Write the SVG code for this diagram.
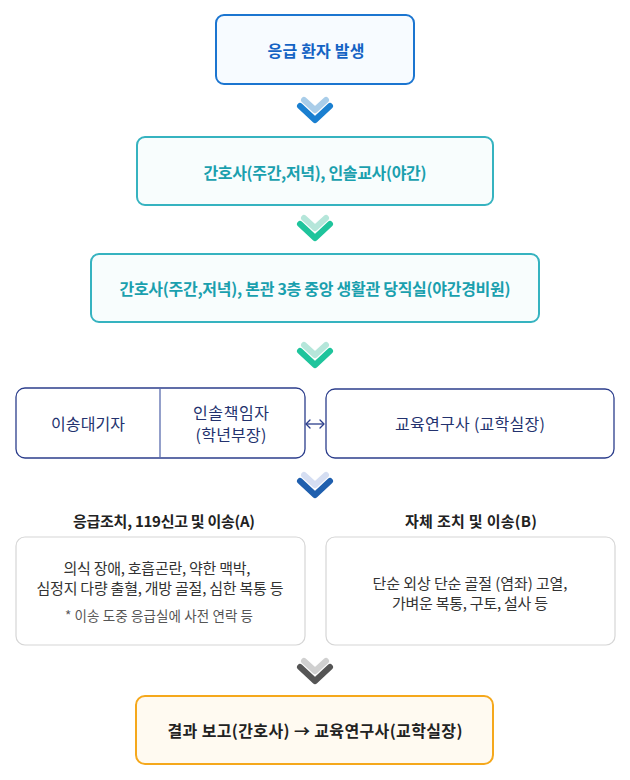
<svg xmlns="http://www.w3.org/2000/svg" width="630" height="780" viewBox="0 0 630 780">
<style>
text{font-family:"Noto Sans CJK KR","Noto Sans",sans-serif;text-anchor:middle;dominant-baseline:central}
.b1{fill:#f7fbff;stroke:#1b75d0;stroke-width:2}
.t1{fill:#1463c4;font-size:16px;font-weight:700}
.b2{fill:#f8fdfd;stroke:#36b3c0;stroke-width:2}
.t2{fill:#1aa0ae;font-size:16px;font-weight:700}
.b4{fill:#ffffff;stroke:#2c3e8c;stroke-width:1.3}
.t4{fill:#23326e;font-size:16px}
.h{fill:#222;font-size:15px;font-weight:700}
.bg{fill:#ffffff;stroke:#d6d6d6;stroke-width:1.2}
.tg{fill:#333;font-size:15px}
.ts{fill:#555;font-size:13.5px}
.bf{fill:#fffaf1;stroke:#f5a81c;stroke-width:2}
.tf{fill:#222;font-size:16px;font-weight:700}
.chev{fill:none;stroke-width:6;stroke-linecap:round;stroke-linejoin:round}
.ah{fill:none;stroke:#2c3e8c;stroke-width:1.3;stroke-linecap:round;stroke-linejoin:round}
</style>

<g id="connectors">
<g id="chev1">
<polyline class="chev" stroke="#a9cde9" points="304,100 315,110 326,100"/>
<polyline class="chev" stroke="#1a7fd0" points="300,106 315,120 330,106"/>
</g>
<g id="chev2" transform="translate(0,118)">
<polyline class="chev" stroke="#b5e6da" points="304,100 315,110 326,100"/>
<polyline class="chev" stroke="#1fc49c" points="300,106 315,120 330,106"/>
</g>
<g id="chev3" transform="translate(0,245)">
<polyline class="chev" stroke="#b5e6da" points="304,100 315,110 326,100"/>
<polyline class="chev" stroke="#1fc49c" points="300,106 315,120 330,106"/>
</g>
<g id="chev4" transform="translate(0,375)">
<polyline class="chev" stroke="#d5def2" points="304,100 315,110 326,100"/>
<polyline class="chev" stroke="#1f5fae" points="300,106 315,120 330,106"/>
</g>
<g id="chev5" transform="translate(0,561)">
<polyline class="chev" stroke="#d0d0d0" points="304,100 315,110 326,100"/>
<polyline class="chev" stroke="#555555" points="300,106 315,120 330,106"/>
</g>
<g id="dbl">
<line x1="306" y1="424" x2="324" y2="424" stroke="#2c3e8c" stroke-width="1.3"/>
<polyline class="ah" points="310,420 306,424 310,428"/>
<polyline class="ah" points="320,420 324,424 320,428"/>
</g>
</g>

<g id="n1">
<rect class="b1" x="216" y="15" width="198" height="69" rx="8"/>
<text class="t1" x="316" y="50" textLength="97">응급 환자 발생</text>
</g>
<g id="n2">
<rect class="b2" x="137" y="137" width="356" height="68" rx="8"/>
<text class="t2" x="315" y="172" textLength="223">간호사(주간,저녁), 인솔교사(야간)</text>
</g>
<g id="n3">
<rect class="b2" x="91" y="254" width="448" height="68" rx="8"/>
<text class="t2" x="315" y="288" textLength="391">간호사(주간,저녁), 본관 3층 중앙 생활관 당직실(야간경비원)</text>
</g>
<g id="n4">
<rect class="b4" x="16" y="388" width="289" height="70" rx="9"/>
<line x1="160" y1="388" x2="160" y2="458" stroke="#5a6cae" stroke-width="1.3"/>
<text class="t4" x="88" y="423" textLength="74">이송대기자</text>
<text class="t4" x="231" y="412" textLength="76">인솔책임자</text>
<text class="t4" x="231" y="434" textLength="71">(학년부장)</text>
</g>
<g id="n5">
<rect class="b4" x="326" y="389" width="288" height="69" rx="9"/>
<text class="t4" x="470" y="423" textLength="150">교육연구사 (교학실장)</text>
</g>
<g id="nA">
<text class="h" x="164" y="520" textLength="182">응급조치, 119신고 및 이송(A)</text>
<rect class="bg" x="16" y="537" width="289" height="108" rx="9"/>
<text class="tg" x="157" y="567" textLength="187">의식 장애, 호흡곤란, 약한 맥박,</text>
<text class="tg" x="160" y="587" textLength="247">심정지 다량 출혈, 개방 골절, 심한 복통 등</text>
<text class="ts" x="159" y="615" textLength="188">* 이송 도중 응급실에 사전 연락 등</text>
</g>
<g id="nB">
<text class="h" x="471" y="520" textLength="132">자체 조치 및 이송(B)</text>
<rect class="bg" x="326" y="537" width="289" height="108" rx="9"/>
<text class="tg" x="470" y="582" textLength="195">단순 외상 단순 골절 (염좌) 고열,</text>
<text class="tg" x="470" y="602" textLength="156">가벼운 복통, 구토, 설사 등</text>
</g>
<g id="n6">
<rect class="bf" x="136" y="696" width="357" height="68" rx="9"/>
<text class="tf" x="315" y="730" textLength="295">결과 보고(간호사) → 교육연구사(교학실장)</text>
</g>
</svg>
